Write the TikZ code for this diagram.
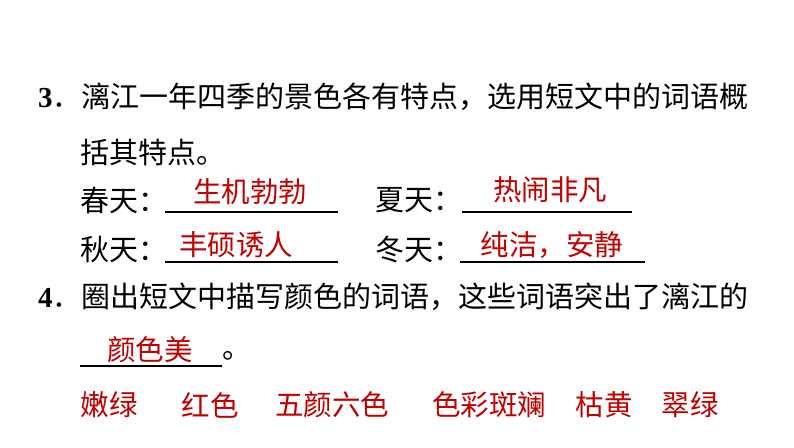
\documentclass[tikz,border=0pt]{standalone}
\usepackage{fontspec}
\setmainfont{Liberation Serif}
\newfontfamily\cjk{Noto Sans CJK SC}
\definecolor{ansred}{RGB}{192,0,0}
\begin{document}
\begin{tikzpicture}[x=1pt,y=-1pt,
  txt/.style={anchor=west,inner sep=0pt,font=\fontsize{29}{32}\selectfont\cjk},
  ans/.style={anchor=center,inner sep=0pt,text=ansred,font=\fontsize{28.5}{32}\selectfont\cjk},
  blank/.style={line width=1.2pt}]
\useasboundingbox[fill=white] (0,0) rectangle (794,447);
\node[txt] (n3) at (38,97) {{\bfseries\rmfamily 3}．漓江一年四季的景色各有特点，选用短文中的词语概};
\node[txt] (l2) at (80,152) {括其特点。};
\node[txt] (chun) at (80,200) {春天：};
\coordinate (a1) at (165,212); \coordinate (a2) at (338,212);
\draw[blank] (a1) -- (a2);
\node[ans] (s1) at (250,192) {生机勃勃};
\node[txt] (xia) at (375,200) {夏天：};
\coordinate (b1) at (462,212); \coordinate (b2) at (632,212);
\draw[blank] (b1) -- (b2);
\node[ans] (s2) at (550,190) {热闹非凡};
\node[txt] (qiu) at (80,250) {秋天：};
\coordinate (c1) at (165,262); \coordinate (c2) at (338,262);
\draw[blank] (c1) -- (c2);
\node[ans] (s3) at (236,245) {丰硕诱人};
\node[txt] (dong) at (375,250) {冬天：};
\coordinate (d1) at (460,262); \coordinate (d2) at (645,262);
\draw[blank] (d1) -- (d2);
\node[ans] (s4) at (552,245) {纯洁，安静};
\node[txt] (n4) at (38,297) {{\bfseries\rmfamily 4}．圈出短文中描写颜色的词语，这些词语突出了漓江的};
\coordinate (e1) at (80,366); \coordinate (e2) at (222,366);
\draw[blank] (e1) -- (e2);
\node[ans] (s5) at (150,350) {颜色美};
\node[txt] (dot) at (222,356) {。};
\node[ans] (w1) at (109,405) {嫩绿};
\node[ans] (w2) at (210,405) {红色};
\node[ans] (w3) at (332,405) {五颜六色};
\node[ans] (w4) at (489,405) {色彩斑斓};
\node[ans] (w5) at (604,405) {枯黄};
\node[ans] (w6) at (690,405) {翠绿};
\end{tikzpicture}
\end{document}
